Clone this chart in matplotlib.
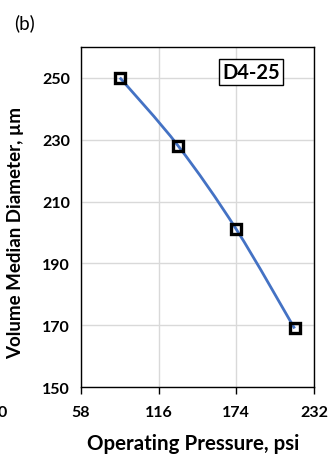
import numpy as np
import matplotlib
matplotlib.use("Agg")
import matplotlib.pyplot as plt
from matplotlib.path import Path
from matplotlib.patches import PathPatch

# Operating pressure (psi) and volume median diameter (um) for nozzle D4-25
pressure_psi = [87.0, 130.5, 174.0, 217.5]
vmd_um = [250, 228, 201, 169]

x_ticks = [58, 116, 174, 232]
y_ticks = [150, 170, 190, 210, 230, 250]

plt.rcParams['font.family'] = ['Lato', 'DejaVu Sans']

fig = plt.figure(figsize=(3.31, 4.56), dpi=100)
ax = fig.add_axes([81 / 331, 1 - 388.3 / 456, (314 - 81) / 331, (388.3 - 47.7) / 456])

ax.set_xlim(58, 232)
ax.set_ylim(150, 260)
ax.set_xticks(x_ticks)
ax.set_yticks(y_ticks)
ax.set_xticklabels([str(t) for t in x_ticks], fontsize=11.5, fontweight='bold')
ax.set_yticklabels([str(t) for t in y_ticks], fontsize=11.5, fontweight='bold')
ax.tick_params(axis='x', length=5, width=1, direction='out', pad=8)
ax.tick_params(axis='y', length=0, pad=8)
ax.grid(True, color='#d9d9d9', linewidth=1)
ax.set_axisbelow(True)
for s in ax.spines.values():
    s.set_color('black')
    s.set_linewidth(1.0)

# extra "0" label left of the plot area
ax.annotate('0', xy=(-1, 150), xycoords='data', xytext=(0, -13),
            textcoords='offset points', ha='center', va='top',
            fontsize=11.5, fontweight='bold', annotation_clip=False)

# smoothed line through points (cubic Bezier segments, Excel-style)
pts = np.column_stack([np.array(pressure_psi), np.array(vmd_um, dtype=float)])
n = len(pts)
verts = [tuple(pts[0])]
codes = [Path.MOVETO]
for i in range(n - 1):
    p0 = pts[i - 1] if i > 0 else pts[i]
    p1 = pts[i]
    p2 = pts[i + 1]
    p3 = pts[i + 2] if i + 2 < n else pts[i + 1]
    c1 = p1 + (p2 - p0) / 6.0
    c2 = p2 - (p3 - p1) / 6.0
    verts += [tuple(c1), tuple(c2), tuple(p2)]
    codes += [Path.CURVE4, Path.CURVE4, Path.CURVE4]
ax.add_patch(PathPatch(Path(verts, codes), facecolor='none',
                       edgecolor='#4472C4', linewidth=2.0, zorder=3))

ax.plot(pressure_psi, vmd_um, linestyle='none', marker='s', markersize=6.5,
        markerfacecolor='none', markeredgecolor='black', markeredgewidth=2.4,
        zorder=4, clip_on=False)

ax.text(0.73, 0.925, 'D4-25', transform=ax.transAxes, ha='center', va='center',
        fontsize=14.5, fontweight='bold',
        bbox=dict(boxstyle='square,pad=0.15', facecolor='white',
                  edgecolor='black', linewidth=1))

ax.set_xlabel('Operating Pressure, psi', fontsize=14.8, fontweight='bold')
ax.set_ylabel('Volume Median Diameter, µm', fontsize=13.5, fontweight='bold')
ax.xaxis.set_label_coords(0.48, -0.135)
ax.yaxis.set_label_coords(-0.245, 0.455)

fig.text(24 / 331, 1 - 23 / 456, '(b)', ha='center', va='center', fontsize=13.5)

fig.savefig('out.png', dpi=100)
